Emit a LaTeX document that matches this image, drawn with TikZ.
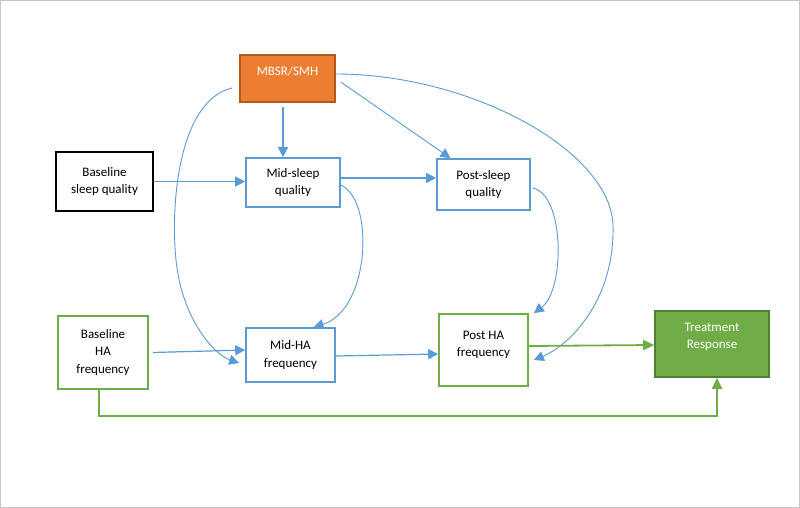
\documentclass[tikz,border=0pt]{standalone}
\usepackage{fontspec}
\setmainfont{Carlito}
\usepackage{xcolor}
\usetikzlibrary{arrows.meta}

\definecolor{wblue}{HTML}{5B9BD5}
\definecolor{wgreen}{HTML}{70AD47}
\definecolor{wgreendk}{HTML}{507E32}
\definecolor{worange}{HTML}{ED7D31}
\definecolor{worangedk}{HTML}{AE5A21}

\begin{document}
\begin{tikzpicture}[x=1pt, y=-1pt,
    box/.style={draw, line width=1.6pt, align=center, inner sep=1pt,
        font=\fontsize{13}{17.5}\selectfont},
    bluebox/.style={box, draw=wblue},
    greenbox/.style={box, draw=wgreen},
    blink/.style={-{Triangle[length=10pt, width=10pt]}, wblue, line width=1.2pt},
    clink/.style={blink, line width=0.9pt},
    glink/.style={-{Triangle[length=11pt, width=10pt]}, wgreen, line width=1.8pt}]

    \useasboundingbox (0,0) rectangle (800,508);
    \draw[gray!45, line width=1pt] (0.5,0.5) rectangle (799.5,507.5);

    % boxes
    \node[box, draw=worangedk, fill=worange, text=white, text depth=15pt,
        minimum width=95pt, minimum height=47pt] (MBSR) at (287.5,78.5) {MBSR/SMH};
    \node[box, draw=black, minimum width=97pt, minimum height=59pt]
        (BaseSleep) at (104.5,181.5) {Baseline\\sleep quality};
    \node[bluebox, minimum width=94pt, minimum height=49pt]
        (MidSleep) at (293,182.5) {Mid-sleep\\quality};
    \node[bluebox, minimum width=93pt, minimum height=51pt]
        (PostSleep) at (483.5,184.5) {Post-sleep\\quality};
    \node[greenbox, minimum width=90pt, minimum height=73pt]
        (BaseHA) at (103,352.5) {Baseline\\HA\\frequency};
    \node[bluebox, minimum width=89pt, minimum height=54pt]
        (MidHA) at (290.5,355) {Mid-HA\\frequency};
    \node[greenbox, text depth=12pt, minimum width=89pt, minimum height=72pt]
        (PostHA) at (483.5,350) {Post HA\\frequency};
    \node[box, draw=wgreendk, fill=wgreen, text=white, text depth=16pt,
        minimum width=114pt, minimum height=66pt] (Resp) at (712,344) {Treatment\\Response};

    \coordinate (Bend) at (717,416);

    % straight links
    \draw[blink] ([xshift=-4.5pt, yshift=-4pt]MBSR.south) -- ([xshift=-10pt]MidSleep.north);
    \draw[clink] ([xshift=5pt, yshift=-3.5pt]MBSR.east) -- ([xshift=-33pt]PostSleep.north);
    \draw[blink] (BaseSleep.east) -- (BaseSleep.east -| MidSleep.west);
    \draw[blink] ([yshift=4.5pt]MidSleep.east) -- ([yshift=6.5pt]PostSleep.west);
    \draw[blink] ([xshift=4pt]BaseHA.east) -- ([yshift=5pt]MidHA.west);
    \draw[blink] ([yshift=-1pt]MidHA.east) -- ([yshift=-4pt]PostHA.west);

    % curved links
    \draw[clink] ([xshift=-7pt, yshift=-9.5pt]MBSR.west)
        .. controls (180,100) and (170,200) .. (176,260)
        .. controls (182,320) and (215,355) .. ([xshift=-6pt, yshift=-8pt]MidHA.west);
    \draw[clink] ([yshift=4.5pt]MBSR.east)
        .. controls (470,74) and (610,150) .. (613,225)
        .. controls (615,300) and (570,345) .. ([xshift=5pt, yshift=-10pt]PostHA.east);
    \draw[clink] ([yshift=-2.5pt]MidSleep.east)
        .. controls (375,200) and (370,310) .. ([xshift=23pt]MidHA.north);
    \draw[clink] ([xshift=2pt, yshift=-3.5pt]PostSleep.east)
        .. controls (565,195) and (565,290) .. ([xshift=5pt]PostHA.north east);

    % outcome links
    \draw[glink] ([yshift=4pt]PostHA.east) -- ([yshift=-1pt]Resp.west);
    \draw[glink] ([xshift=-4pt]BaseHA.south) |- (Bend) -- ([xshift=5pt]Resp.south);
\end{tikzpicture}
\end{document}
